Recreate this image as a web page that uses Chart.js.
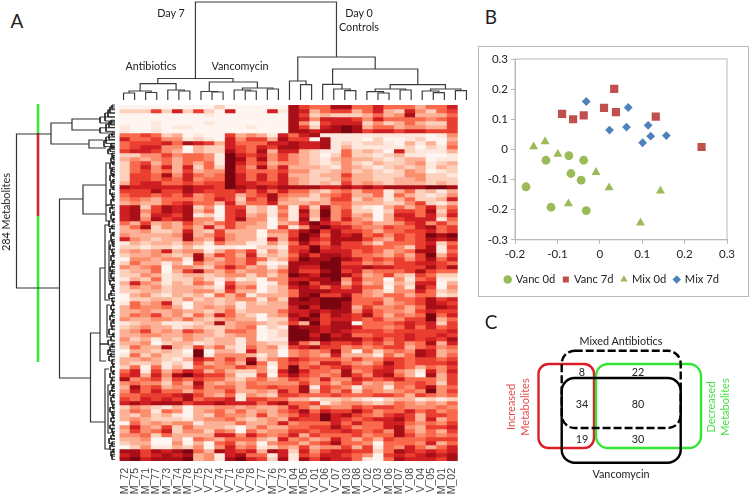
<!DOCTYPE html>
<html>
<head>
<meta charset="utf-8">
<script src="https://cdn.jsdelivr.net/npm/chart.js@4"></script>
<style>
  body { margin: 0; background: #fff; width: 750px; height: 496px; overflow: hidden; position: relative; font-family: Lato, sans-serif; color: #222; }
  canvas { position: absolute; }
  .t { position: absolute; font-size: 10.8px; line-height: 14px; white-space: nowrap; transform: translate(-50%, -50%); }
  .big { font-size: 19px; line-height: 20px; }
  .v { transform: translate(-50%, -50%) rotate(-90deg); font-size: 11px; }
</style>
</head>
<body>
<canvas id="dendroTop" style="left:118px;top:0;width:354px;height:105px"></canvas>
<canvas id="dendroLeft" style="left:0;top:100px;width:118px;height:365px"></canvas>
<canvas id="heat" style="left:118px;top:105px;width:354px;height:391px"></canvas>
<canvas id="chartB" style="left:478px;top:46px;width:271px;height:251px"></canvas>
<canvas id="venn" style="left:470px;top:300px;width:280px;height:196px"></canvas>

<div class="t big" style="left:17px;top:21px">A</div>
<div class="t big" style="left:491px;top:17px">B</div>
<div class="t big" style="left:491px;top:322px">C</div>
<div class="t" style="left:171px;top:13px">Day 7</div>
<div class="t" style="left:359px;top:13px">Day 0</div>
<div class="t" style="left:359px;top:27px">Controls</div>
<div class="t" style="left:151px;top:66px">Antibiotics</div>
<div class="t" style="left:240px;top:66px">Vancomycin</div>
<div class="t" style="left:6px;top:212px;transform:translate(-50%,-50%) rotate(-90deg)">284 Metabolites</div>

<div class="t" style="left:621px;top:341px">Mixed Antibiotics</div>
<div class="t" style="left:621px;top:474px">Vancomycin</div>
<div class="t" style="left:582px;top:372px">8</div>
<div class="t" style="left:638px;top:372px">22</div>
<div class="t" style="left:582px;top:404px">34</div>
<div class="t" style="left:638px;top:404px">80</div>
<div class="t" style="left:582px;top:439px">19</div>
<div class="t" style="left:638px;top:439px">30</div>
<div class="t v" style="left:511px;top:407px;color:#e2504f">Increased</div>
<div class="t v" style="left:525px;top:407px;color:#e2504f">Metabolites</div>
<div class="t v" style="left:711px;top:407px;color:#45df45">Decreased</div>
<div class="t v" style="left:725px;top:407px;color:#45df45">Metabolites</div>

<script>
// sample names along the bottom of the heatmap
var samples = ['M_72','M_75','M_71','M_77','M_73','M_74','M_78','V_75','V_72','V_74','V_71','V_76','V_78','V_77','M_76','V_73',
               'M_04','M_05','V_01','V_06','V_07','M_03','M_08','V_02','V_03','M_06','M_07','V_08','V_04','V_05','M_01','M_02'];

// heatmap levels, one string per band, one digit (0-9) per sample
var heatRows = [
'00000000020000008655885575553557',
'22262726207000718735663573274256',
'00000000100000008623222353483335',
'00000000000000008747776475555456',
'00010000100000008416777242353226',
'10010110000010008627898355344336',
'10010000000000008878898677677666',
'55652301006343175781111111111014',
'75564412107466386608111020012003',
'56667587637555778778121221031304',
'56774403227657688778131111120215',
'67764303228658377321152320721113',
'22446455419767464320252212311001',
'34345355419858464321343321233011',
'25635353519756344321242132234123',
'25747372529648473332143212323132',
'25645363449655564422342321243012',
'26658475459757573323363322244221',
'26656574559757574322353322334222',
'36775565669776674323263432333232',
'87777787769878788887787878888998',
'66686687666757575532453551352313',
'56656574566356854424563351532124',
'45435554576265843223662431352237',
'34335675537355733343553332246213',
'78268782406623151628452103535735',
'78468783506723141839462202665826',
'78377681206734151739463403775737',
'78486784416844041828474303677715',
'53634364356443034797654533467464',
'35824353736433061489775446557856',
'33422373263330446896866535566756',
'43333483464330336985878564656989',
'74323384374331737976888643656878',
'13233243153311425865866425556725',
'22122131011002216696766655426816',
'34347344135461426797775653458815',
'23343238365372325868875543536936',
'04434418435465236988987565646857',
'25331305345462018889966454667765',
'43450443257534138779977877666868',
'23350368435344358668967455568655',
'22431233234424249879986346326522',
'13251224213120447788947440415611',
'37431325406330148968836341327703',
'24342333217450237875757550418604',
'22332334426330235888777431447523',
'03421323153513335896685435535512',
'02233242323441428989995553556867',
'15347203323132338889985563456876',
'35445303434133337979983644535887',
'33433433235233357787884754436766',
'35463425375320348796876853545957',
'43344353234330227986776564466935',
'12331112383443236396880555676726',
'23433123223450219887887554575756',
'34634365325540129987876665666667',
'33443343323440129979785566676676',
'42313243233140119989888675676768',
'33402331233143228537667564645837',
'25338326352153416786645456635645',
'03323209033173304545840524548734',
'15242219144431304543733315358735',
'33432137646482457655546446656656',
'32231216345395156547754358656667',
'25051315544654059565675567653546',
'57163576353224179755484577431747',
'67374897664116068654586478530836',
'84563656553245346547447656755536',
'45442538434354444645356343556526',
'38563447455355655816541441546845',
'47575535446334375836462543454946',
'55666786435143266555655566536545',
'65767685667166553312232102331212',
'78788867787775785561344323543435',
'24321303344343347535446566544454',
'35415403453534356857668645575645',
'32423103254436345769786546763665',
'34322213445323437669765677863735',
'05343441333533474555757557754546',
'47436253332035335566864557843667',
'36457244254053446656676564853536',
'44525333377475457365556455864545',
'33400305435553274534753536555666',
'23300403056340455356855405554735',
'02411324047451243634463615475357',
'88687895387673872746776625876767',
'78678783417855171657765406767878',
'89788893418976281868775105877768'
];

// Reds ramp for the digits above
var heatColors = ['#fff5f0','#fee8dd','#fdd0bc','#fcb095','#fb8e6e','#f9694c','#ea3f30','#cf1f22','#a80f16','#7a0510'];

// top dendrogram: [left column, left height, right column, right height, merge height]
var topLinks = [
  [0,0,1,0,7],[2,0,3,0,7.5],[0.5,7,2.5,7.5,9],[5,0,6,0,9],[4,0,5.5,9,10],[1.5,9,4.75,10,16.3],
  [8,0,9,0,8],[7,0,8.5,8,8.5],[11,0,12,0,9],[10,0,11.5,9,10],[13,0,14,0,11],[10.75,10,13.5,11,12],
  [7.75,8.5,12.1,12,18],[3.1,16.3,9.9,18,21.5],
  [16,0,17,0,15.3],[15,0,16.5,15.3,19],[20,0,21,0,9.3],[19,0,20.5,9.3,11],[18,0,19.75,11,15.7],
  [23,0,24,0,7],[22,0,23.5,7,8.3],[25,0,26,0,10],[22.75,8.3,25.5,10,11],[28,0,29,0,7.3],[27,0,28.5,7.3,9],
  [30,0,31,0,9.3],[27.75,9,30.5,9.3,11],[24.1,11,29.1,11,15.3],[18.9,15.7,26.6,15.3,31],
  [15.75,19,22.75,31,43],[6.5,21.5,19.25,43,98]
];

// left dendrogram: [top row, top distance, bottom row, bottom distance, merge distance]
var leftLinks = [
  [7.25,64,45.75,55.5,98.5],[4.5,43,9.75,26,64],[23.5,32,68.25,24.5,55.5],[3.5,15,6.25,15,43],
  [8.75,12,10.75,9,26],[20,9,27.25,9,32],[57,15,79.25,10,24.5],[40.75,10,59.75,8,15],[59.75,8,64,9,15],
  [30,6,48.75,5,10],[14.5,5,25,5,9],[25,4,29,5,9],[66,6,86,6,10],[70,5,82,4,7],[50,5,58,4,8],[34,4,44,3,6]
];

// small brackets next to the heatmap: [top row, bottom row, distance]
var leftLeaves = [
  [0,1,3],[0.5,2,5],[1.2,3,7],[2,4,10],[3,4.5,15],[3.8,5,4],[4.2,5.6,6],[4.8,6.6,9],[5.7,7,15],
  [7,7.8,3],[7.4,8.6,6],[8,9.6,9],[8.8,10.4,11],[9.6,10.6,4],[10,11,3],[10.6,11.6,5],[11,12.2,7],
  [12,13,3],[12.6,13.6,2],[13.2,14.4,4],[14,15,2],[14.6,16,5],[15.6,16.6,3],[16.2,17.4,4],[17,18,2],
  [17.6,19,5],[18.6,19.6,2],[19.2,20.6,4],[20.2,21.2,2],[21,22.4,5],[22,23,3],[22.8,24,2],[23.6,25,4],
  [25,26,3],[25.6,27,5],[26.6,27.6,2],[27.4,28.6,4],[28.4,29.4,2],[29,30.4,6],[30,31,3],[30.8,32,5],
  [31.8,32.8,2],[32.4,34,4],[33.6,34.6,3],[34.2,35.4,2],[35,36.2,5],[36,37,3],[36.8,38,2],[37.6,39,4],
  [38.8,39.8,2],[39.4,40.6,3],[40.4,41.6,5],[41.2,42.2,3],[42,43.4,4],[43,44,2],[43.8,45,5],[44.8,45.8,3],
  [45.4,46.6,2],[46.4,47.6,4],[47.2,48.4,6],[48.2,49.2,3],[49,50.2,2],[50,51.2,4],[51,52,2],[51.8,53,3],
  [52.6,53.8,5],[53.6,54.6,2],[54.2,55.4,4],[55.2,56.2,3],[56,57.4,6],[57,58,2],[57.8,59,4],[58.8,60,7],
  [59.6,60.6,3],[60.4,61.6,5],[61.2,62.4,7],[62,63,4],[62.8,64,6],[63.6,64.8,3],[64.6,65.6,2],[65.4,66.6,4],
  [66.4,67.4,2],[67,68.2,5],[68,69,3],[68.8,70,4],[69.8,70.8,2],[70.4,71.6,3],[71.4,72.6,5],[72.2,73.2,2],
  [73,74.2,4],[74,75,3],[74.8,76,2],[75.6,76.8,5],[76.6,77.6,3],[77.2,78.4,2],[78.2,79.2,4],[79,80.2,2],
  [80,81,5],[80.8,82,3],[81.6,82.8,2],[82.6,83.6,4],[83.4,84.6,6],[84.2,85.4,3],[85,86.2,5],[86,87,2],[86.6,87.8,4],[87.4,88.6,3]
];

// coloured bar beside the dendrogram: [from row, to row]
var greenSpans = [[-0.25,7],[27.75,64.25]];
var redSpans = [[7,27.75]];

// panel B scatter values
var vanc0d = [[-0.174,-0.124],[-0.127,-0.036],[-0.073,-0.021],[-0.038,-0.036],[-0.068,-0.08],[-0.044,-0.102],[-0.115,-0.192],[-0.032,-0.203]];
var vanc7d = [[-0.089,0.118],[-0.063,0.1],[-0.038,0.113],[0.01,0.138],[0.034,0.201],[0.038,0.124],[0.132,0.109],[0.24,0.008]];
var mix0d = [[-0.156,0.009],[-0.129,0.026],[-0.099,-0.016],[-0.009,-0.076],[0.022,-0.127],[0.143,-0.138],[-0.074,-0.18],[0.096,-0.244]];
var mix7d = [[-0.032,0.159],[0.067,0.139],[0.023,0.064],[0.063,0.074],[0.114,0.08],[0.12,0.044],[0.101,0.022],[0.157,0.046]];

function xy(list) {
  return list.map(function (p) { return { x: p[0], y: p[1] }; });
}

Chart.defaults.animation = false;
Chart.defaults.responsive = false;
Chart.defaults.plugins.legend.display = false;
Chart.defaults.plugins.tooltip.enabled = false;

function size(id) {
  var c = document.getElementById(id);
  c.width = parseInt(c.style.width);
  c.height = parseInt(c.style.height);
  return c;
}

function lineSet(points, color, width) {
  return { data: points, showLine: true, pointRadius: 0, borderColor: color, borderWidth: width, tension: 0 };
}

// heatmap: one set of floating bars per band
var heatSets = heatRows.map(function (row, r) {
  var cells = row.split('').map(Number);
  return {
    data: cells.map(function () { return [r, r + 1]; }),
    backgroundColor: cells.map(function (v) { return heatColors[v]; }),
    grouped: false,
    barPercentage: 1,
    categoryPercentage: 1
  };
});

new Chart(size('heat'), {
  type: 'bar',
  data: { labels: samples, datasets: heatSets },
  options: {
    scales: {
      x: {
        grid: { display: false, drawTicks: false },
        border: { display: false },
        afterFit: function (s) { s.height = 35; },
        ticks: { autoSkip: false, minRotation: 90, maxRotation: 90, padding: 7, color: '#444', font: { family: 'Liberation Sans', size: 10.5 } }
      },
      y: { display: false, min: 0, max: heatRows.length, reverse: true }
    }
  }
});

// top dendrogram
var topSets = topLinks.map(function (l) {
  return lineSet([{ x: l[0], y: l[1] }, { x: l[0], y: l[4] }, { x: l[2], y: l[4] }, { x: l[2], y: l[3] }], '#3c3c3c', 1.2);
});

new Chart(size('dendroTop'), {
  type: 'scatter',
  data: { datasets: topSets },
  options: {
    scales: {
      x: { display: false, min: -0.5, max: 31.5 },
      y: { display: false, min: -5, max: 100 }
    }
  }
});

// left dendrogram and the coloured bar
var leftSets = leftLinks.map(function (l) {
  return lineSet([{ x: l[1], y: l[0] }, { x: l[4], y: l[0] }, { x: l[4], y: l[2] }, { x: l[3], y: l[2] }], '#333', 1.2);
});
leftLeaves.forEach(function (l) {
  leftSets.push(lineSet([{ x: 0, y: l[0] }, { x: l[2], y: l[0] }, { x: l[2], y: l[1] }, { x: 0, y: l[1] }], '#222', 0.9));
});
greenSpans.forEach(function (s) {
  leftSets.push(lineSet([{ x: 77, y: s[0] }, { x: 77, y: s[1] }], '#3be63b', 2.6));
});
redSpans.forEach(function (s) {
  leftSets.push(lineSet([{ x: 77, y: s[0] }, { x: 77, y: s[1] }], '#cf2a2a', 2.6));
});

new Chart(size('dendroLeft'), {
  type: 'scatter',
  data: { datasets: leftSets },
  options: {
    scales: {
      x: { display: false, min: -3, max: 115, reverse: true },
      y: { display: false, min: -1.25, max: 90, reverse: true }
    }
  }
});

// panel B
var plotBorder = {
  id: 'plotBorder',
  afterDraw: function (chart) {
    var a = chart.chartArea, ctx = chart.ctx;
    ctx.save();
    ctx.strokeStyle = '#b8b8b8';
    ctx.lineWidth = 1;
    ctx.strokeRect(a.left, a.top, a.right - a.left, a.bottom - a.top);
    ctx.strokeRect(0.5, 0.5, chart.width - 1, chart.height - 1);
    ctx.restore();
  }
};

function tickText(v) { return String(+Number(v).toFixed(1)); }

new Chart(size('chartB'), {
  type: 'scatter',
  plugins: [plotBorder],
  data: {
    datasets: [
      { label: 'Vanc 0d', data: xy(vanc0d), backgroundColor: '#9bbb59', borderWidth: 0, pointStyle: 'circle', pointRadius: 4.4 },
      { label: 'Vanc 7d', data: xy(vanc7d), backgroundColor: '#c0504d', borderWidth: 0, pointStyle: 'rect', pointRadius: 5.8 },
      { label: 'Mix 0d', data: xy(mix0d), backgroundColor: '#9bbb59', borderWidth: 0, pointStyle: 'triangle', pointRadius: 5.2 },
      { label: 'Mix 7d', data: xy(mix7d), backgroundColor: '#4f81bd', borderWidth: 0, pointStyle: 'rectRot', pointRadius: 4.4 }
    ]
  },
  options: {
    layout: { padding: { top: 13, right: 22, bottom: 2 } },
    plugins: {
      legend: {
        display: true,
        position: 'bottom',
        align: 'end',
        labels: { usePointStyle: true, boxWidth: 5, boxHeight: 6, padding: 8, color: '#222', font: { family: 'Lato', size: 11.2 } }
      }
    },
    scales: {
      x: {
        min: -0.2, max: 0.3,
        afterFit: function (s) { s.height = 26; },
        grid: { drawOnChartArea: false, tickLength: 4, color: '#b8b8b8' },
        border: { color: '#b8b8b8' },
        ticks: { stepSize: 0.1, callback: tickText, color: '#222', padding: 4, maxRotation: 0, font: { family: 'Lato', size: 11.5 } }
      },
      y: {
        min: -0.3, max: 0.3,
        afterFit: function (s) { s.width = 37; },
        grid: { drawOnChartArea: false, tickLength: 4, color: '#b8b8b8' },
        border: { color: '#b8b8b8' },
        ticks: { stepSize: 0.1, callback: tickText, color: '#222', padding: 3, font: { family: 'Lato', size: 11.5 } }
      }
    }
  }
});

// panel C: the four overlapping sets
var vennBoxes = {
  id: 'vennBoxes',
  beforeDatasetsDraw: function (chart) {
    var ctx = chart.ctx, sx = chart.scales.x, sy = chart.scales.y;
    function box(x0, y0, x1, y1, r, color, dash) {
      ctx.beginPath();
      ctx.roundRect(sx.getPixelForValue(x0), sy.getPixelForValue(y0), x1 - x0, y1 - y0, r);
      ctx.strokeStyle = color;
      ctx.lineWidth = 2.4;
      ctx.setLineDash(dash);
      ctx.stroke();
    }
    ctx.save();
    box(68.5, 64, 124, 148, 10, '#dc1f26', []);
    box(126, 64, 231, 148, 12, '#33e633', []);
    box(91.7, 78, 210.7, 162.7, 13, '#000', []);
    box(91.7, 50.7, 210.7, 128, 13, '#000', [8, 3]);
    ctx.restore();
  }
};

new Chart(size('venn'), {
  type: 'scatter',
  plugins: [vennBoxes],
  data: { datasets: [] },
  options: {
    scales: {
      x: { display: false, min: 0, max: 280 },
      y: { display: false, min: 0, max: 196, reverse: true }
    }
  }
});
</script>
</body>
</html>
